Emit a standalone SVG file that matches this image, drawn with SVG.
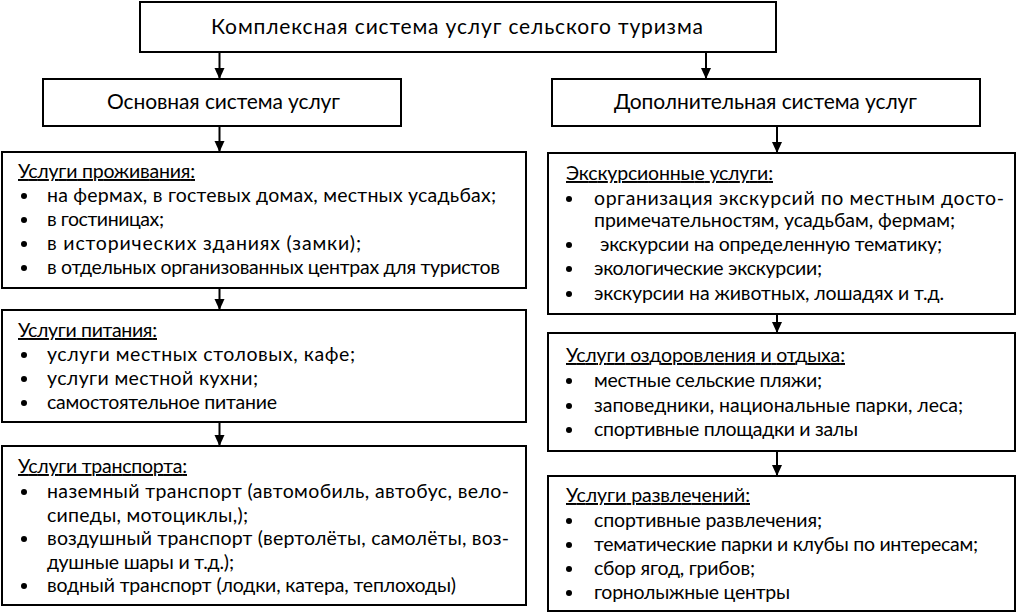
<svg xmlns="http://www.w3.org/2000/svg" width="1021" height="614" viewBox="0 0 1021 614">
<style>
.box{fill:#fff;stroke:#000;stroke-width:2}
text{font-family:Lato,"Liberation Sans",sans-serif;font-size:19.5px;fill:#000}
.t{font-size:21px}
.h{text-decoration:underline}
.con{stroke:#000;stroke-width:2;fill:none}
</style>
<defs>
<marker id="a" markerUnits="userSpaceOnUse" markerWidth="12" markerHeight="12" viewBox="0 0 12 12" refX="6" refY="11" orient="0">
<path d="M1,0 L11,0 L6,11 Z" fill="#000"/>
</marker>
</defs>
<g id="connectors">
<line class="con" x1="219.5" y1="52" x2="219.5" y2="79" marker-end="url(#a)"/>
<line class="con" x1="706" y1="52" x2="706" y2="79" marker-end="url(#a)"/>
<line class="con" x1="219.5" y1="126" x2="219.5" y2="152" marker-end="url(#a)"/>
<line class="con" x1="777" y1="126" x2="777" y2="153" marker-end="url(#a)"/>
<line class="con" x1="219.5" y1="288" x2="219.5" y2="310" marker-end="url(#a)"/>
<line class="con" x1="777" y1="314" x2="777" y2="333" marker-end="url(#a)"/>
<line class="con" x1="219.5" y1="422" x2="219.5" y2="446" marker-end="url(#a)"/>
<line class="con" x1="777" y1="451" x2="777" y2="476" marker-end="url(#a)"/>
</g>
<g id="root">
<rect class="box" x="140" y="2" width="636" height="50"/>
<text class="t" x="211" y="34" textLength="492">Комплексная система услуг сельского туризма</text>
</g>
<g id="basic">
<rect class="box" x="43" y="79" width="358" height="47"/>
<text class="t" x="107" y="109" textLength="233">Основная система услуг</text>
</g>
<g id="extra">
<rect class="box" x="552" y="79" width="428" height="47"/>
<text class="t" x="614" y="109" textLength="303">Дополнительная система услуг</text>
</g>
<g id="accommodation">
<rect class="box" x="2" y="152" width="524" height="136"/>
<text class="h" x="18" y="178" textLength="177">Услуги проживания:</text>
<circle cx="24" cy="196" r="3"/><text x="47" y="202" textLength="449">на фермах, в гостевых домах, местных усадьбах;</text>
<circle cx="24" cy="220" r="3"/><text x="47" y="226" textLength="117">в гостиницах;</text>
<circle cx="24" cy="244" r="3"/><text x="47" y="250" textLength="314">в исторических зданиях (замки);</text>
<circle cx="24" cy="268" r="3"/><text x="47" y="274" textLength="453">в отдельных организованных центрах для туристов</text>
</g>
<g id="food">
<rect class="box" x="2" y="310" width="524" height="112"/>
<text class="h" x="18" y="337" textLength="139">Услуги питания:</text>
<circle cx="24" cy="355" r="3"/><text x="47" y="361" textLength="308">услуги местных столовых, кафе;</text>
<circle cx="24" cy="379" r="3"/><text x="47" y="385" textLength="211">услуги местной кухни;</text>
<circle cx="24" cy="403" r="3"/><text x="47" y="409" textLength="230">самостоятельное питание</text>
</g>
<g id="transport">
<rect class="box" x="2" y="446" width="524" height="159"/>
<text class="h" x="18" y="473" textLength="169">Услуги транспорта:</text>
<circle cx="24" cy="492" r="3"/><text x="47" y="498" textLength="462" lengthAdjust="spacing">наземный транспорт (автомобиль, автобус, вело-</text>
<text x="47" y="522" textLength="201">сипеды, мотоциклы,);</text>
<circle cx="24" cy="539" r="3"/><text x="47" y="545" textLength="462" lengthAdjust="spacing">воздушный транспорт (вертолёты, самолёты, воз-</text>
<text x="47" y="569" textLength="187">душные шары и т.д.);</text>
<circle cx="24" cy="586" r="3"/><text x="47" y="592" textLength="409">водный транспорт (лодки, катера, теплоходы)</text>
</g>
<g id="excursions">
<rect class="box" x="548" y="153" width="467" height="161"/>
<text class="h" x="566" y="180" textLength="207">Экскурсионные услуги:</text>
<circle cx="569" cy="199" r="3"/><text x="594" y="205" textLength="410" lengthAdjust="spacing">организация экскурсий по местным досто-</text>
<text x="594" y="227" textLength="361">примечательностям, усадьбам, фермам;</text>
<circle cx="569" cy="245" r="3"/><text x="600" y="251" textLength="342">экскурсии на определенную тематику;</text>
<circle cx="569" cy="269" r="3"/><text x="594" y="275" textLength="228">экологические экскурсии;</text>
<circle cx="569" cy="294" r="3"/><text x="594" y="300" textLength="350">экскурсии на животных, лошадях и т.д.</text>
</g>
<g id="health">
<rect class="box" x="548" y="333" width="467" height="118"/>
<text class="h" x="566" y="362" textLength="279">Услуги оздоровления и отдыха:</text>
<circle cx="569" cy="381" r="3"/><text x="594" y="387" textLength="228">местные сельские пляжи;</text>
<circle cx="569" cy="406" r="3"/><text x="594" y="412" textLength="369">заповедники, национальные парки, леса;</text>
<circle cx="569" cy="430" r="3"/><text x="594" y="436" textLength="264">спортивные площадки и залы</text>
</g>
<g id="entertainment">
<rect class="box" x="548" y="476" width="467" height="135"/>
<text class="h" x="566" y="502" textLength="184">Услуги развлечений:</text>
<circle cx="569" cy="521" r="3"/><text x="594" y="527" textLength="228">спортивные развлечения;</text>
<circle cx="569" cy="545" r="3"/><text x="594" y="551" textLength="384">тематические парки и клубы по интересам;</text>
<circle cx="569" cy="569" r="3"/><text x="594" y="575" textLength="161">сбор ягод, грибов;</text>
<circle cx="569" cy="593" r="3"/><text x="594" y="599" textLength="196">горнолыжные центры</text>
</g>
</svg>
